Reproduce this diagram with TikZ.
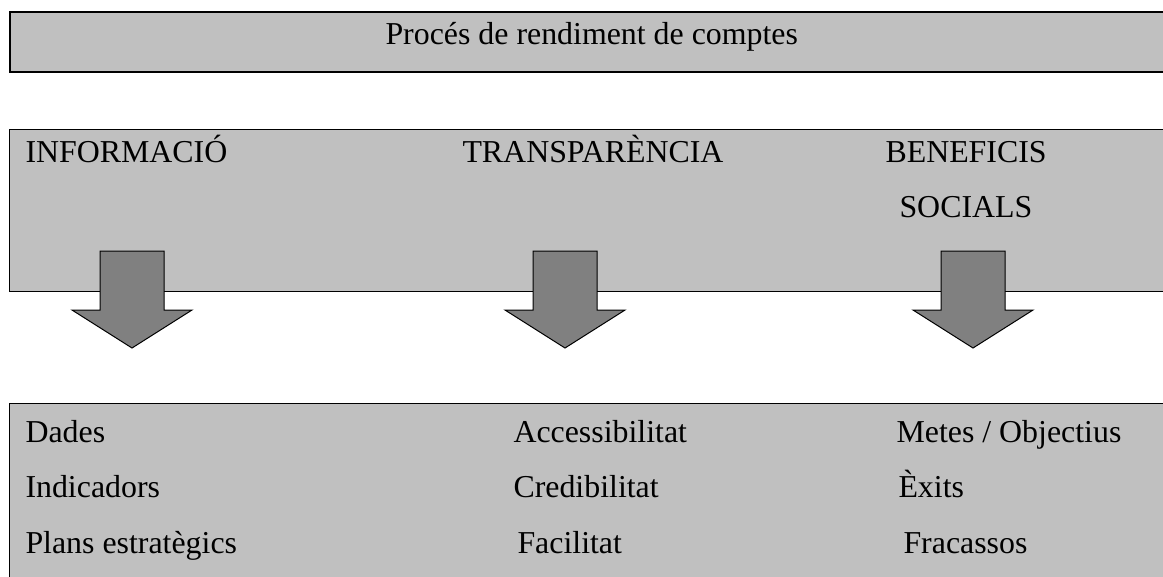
\documentclass[tikz,border=0pt]{standalone}
\usepackage{fontspec}
\setmainfont{Liberation Serif}

\definecolor{panelgray}{RGB}{192,192,192}
\definecolor{arrowgray}{RGB}{128,128,128}

\begin{document}
\begin{tikzpicture}[x = 0.4pt, y = -0.4pt,
        panel/.style = {fill = panelgray, draw = black, line width = 0.4pt},
        txt/.style = {font = {\fontsize{12.75}{15}\selectfont}, black, anchor = base west, inner sep = 0pt}]
        \useasboundingbox (0, 0) rectangle (1163, 576);
        \clip (0, 0) rectangle (1163, 576);

        \draw[panel, line width = 0.8pt] (10, 12) rectangle (1190, 72);
        \draw[panel] (9, 129) rectangle (1190, 291);
        \draw[panel] (9, 403) rectangle (1190, 600);

        \foreach \x in {132, 565, 973} {
            \draw[fill = arrowgray, line width = 0.4pt] (\x-32, 251) -- (\x+32, 251) -- (\x+32, 310) -- (\x+60, 310)
                -- (\x, 348) -- (\x-60, 310) -- (\x-32, 310) -- cycle;
        }

        \node[txt] (title) at (385, 44) {Procés de rendiment de comptes};

        \node[txt] (info) at (25, 162) {INFORMACIÓ};
        \node[txt] (transp) at (462, 162) {TRANSPARÈNCIA};
        \node[txt] (benef) at (885, 162) {BENEFICIS};
        \node[txt] (socials) at (899, 217) {SOCIALS};

        \node[txt] (dades) at (25, 442) {Dades};
        \node[txt] (indic) at (25, 497) {Indicadors};
        \node[txt] (plans) at (25, 553) {Plans estratègics};
        \node[txt] (access) at (513, 442) {Accessibilitat};
        \node[txt] (credib) at (513, 497) {Credibilitat};
        \node[txt] (facil) at (517, 553) {Facilitat};
        \node[txt] (metes) at (896, 442) {Metes / Objectius};
        \node[txt] (exits) at (898, 497) {Èxits};
        \node[txt] (fracas) at (903, 553) {Fracassos};
    \end{tikzpicture}
\end{document}
